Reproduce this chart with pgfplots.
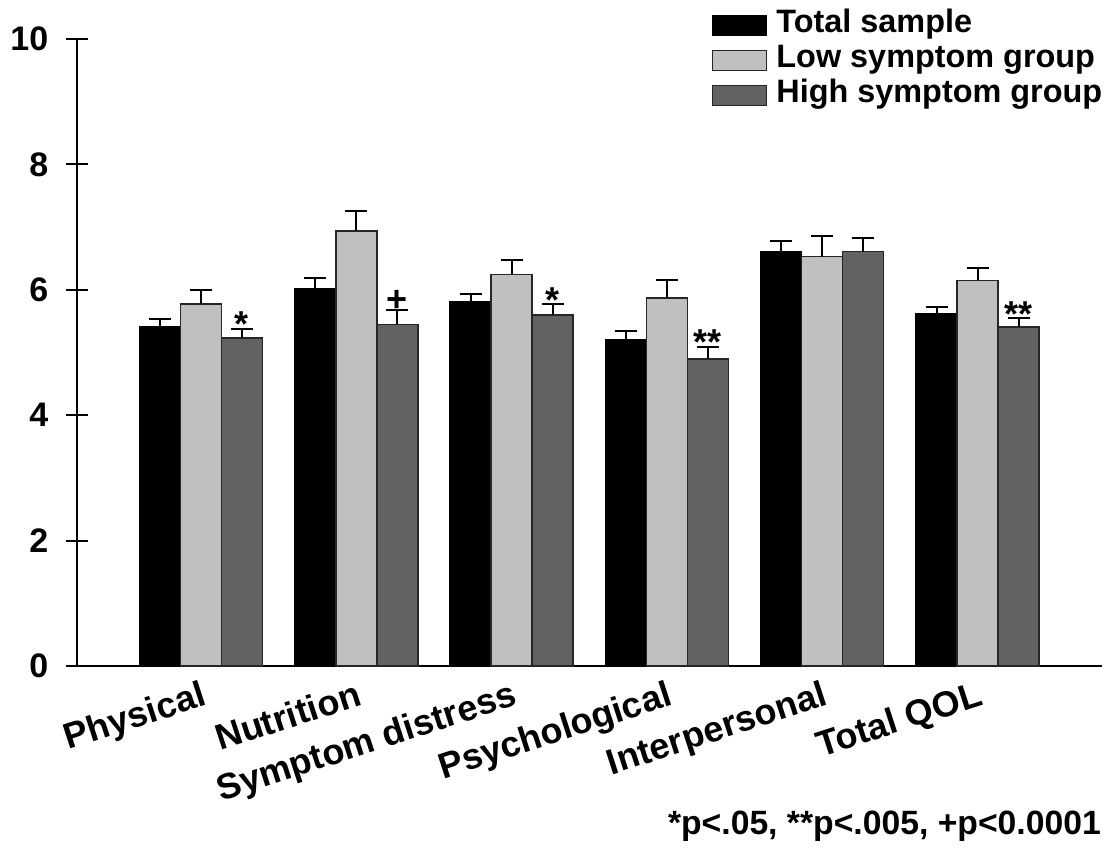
\documentclass[border=0pt]{standalone}
\usepackage{fontspec}
\setmainfont{Liberation Sans}
\usepackage{pgfplots}
\pgfplotsset{compat=1.18}
\newcommand\ff{\bfseries\fontsize{32.4}{36}\selectfont}
\newcommand\fx{\bfseries\fontsize{36}{40}\selectfont}
\newcommand\fy{\bfseries\fontsize{34}{38}\selectfont}
\newcommand\fn{\bfseries\fontsize{33.7}{38}\selectfont}
\definecolor{lgray}{RGB}{192,192,192}
\definecolor{dgray}{RGB}{98,98,98}
\begin{document}
\begin{tikzpicture}
\begin{axis}[
  anchor=origin, at={(0pt,0pt)},
  x=155.3pt, y=62.7pt,
  xmin=-0.8, xmax=5.8, ymin=0, ymax=10,
  axis x line=bottom, axis y line=left,
  axis line style={-, line width=2pt},
  ybar=0pt, bar width=41pt,
  ytick={0,2,...,10}, tick align=center, major tick length=22pt,
  ytick style={line width=2pt, black},
  xtick={0,...,5},
  xticklabels={Physical,Nutrition,Symptom distress,Psychological,Interpersonal,Total QOL},
  xtick style={draw=none},
  xticklabel style={rotate=18, anchor=north east, font=\fx, inner sep=2pt},
  yticklabel style={font=\fy, xshift=-14pt},
  /pgf/number format/assume math mode=true,
  clip=false,
  legend image code/.code={\draw[#1, line width=1.5pt] (0pt,-10pt) rectangle (54pt,10pt);},
  legend style={at={(0.6195,1.0497)}, anchor=north west, draw=none, fill=none,
    font=\ff, legend cell align=left, row sep=0pt, inner sep=0pt,
    nodes={inner sep=0pt, text height=24pt, text depth=11pt}, column sep=9pt},
  error bars/y dir=plus, error bars/y explicit,
  error bars/error bar style={line width=2pt, black},
  error bars/error mark options={rotate=90, mark size=11pt, line width=2pt, black},
]
\addplot[fill=black, draw=black, line width=1.5pt] coordinates {
  (0,5.41) +- (0,0.12) (1,6.01) +- (0,0.18) (2,5.81) +- (0,0.13)
  (3,5.20) +- (0,0.15) (4,6.61) +- (0,0.17) (5,5.61) +- (0,0.12)};
\addlegendentry{Total sample}
\addplot[fill=lgray, draw=black!85, line width=1.5pt] coordinates {
  (0,5.77) +- (0,0.22) (1,6.94) +- (0,0.32) (2,6.24) +- (0,0.24)
  (3,5.87) +- (0,0.28) (4,6.53) +- (0,0.33) (5,6.15) +- (0,0.20)};
\addlegendentry{Low symptom group}
\addplot[fill=dgray, draw=black!85, line width=1.5pt] coordinates {
  (0,5.23) +- (0,0.15) (1,5.45) +- (0,0.22) (2,5.60) +- (0,0.17)
  (3,4.90) +- (0,0.19) (4,6.61) +- (0,0.22) (5,5.41) +- (0,0.14)};
\addlegendentry{High symptom group}
\node[font=\fx, anchor=base, yshift=-8pt] at (axis cs:0.264,5.38) {*};
\node[font=\fx, anchor=base, yshift=-1pt] at (axis cs:1.264,5.67) {+};
\node[font=\fx, anchor=base, yshift=-8pt] at (axis cs:2.264,5.77) {*};
\node[font=\fx, anchor=base, yshift=-8pt] at (axis cs:3.264,5.09) {**};
\node[font=\fx, anchor=base, yshift=-8pt] at (axis cs:5.264,5.55) {**};
\end{axis}
\node[font=\fn, anchor=base east, inner sep=0pt] at (900pt,-168pt) {*p<.05, **p<.005, +p<0.0001};
\pgfresetboundingbox
\path[use as bounding box] (-201pt,-195pt) rectangle (909pt,666pt);
\end{tikzpicture}
\end{document}
